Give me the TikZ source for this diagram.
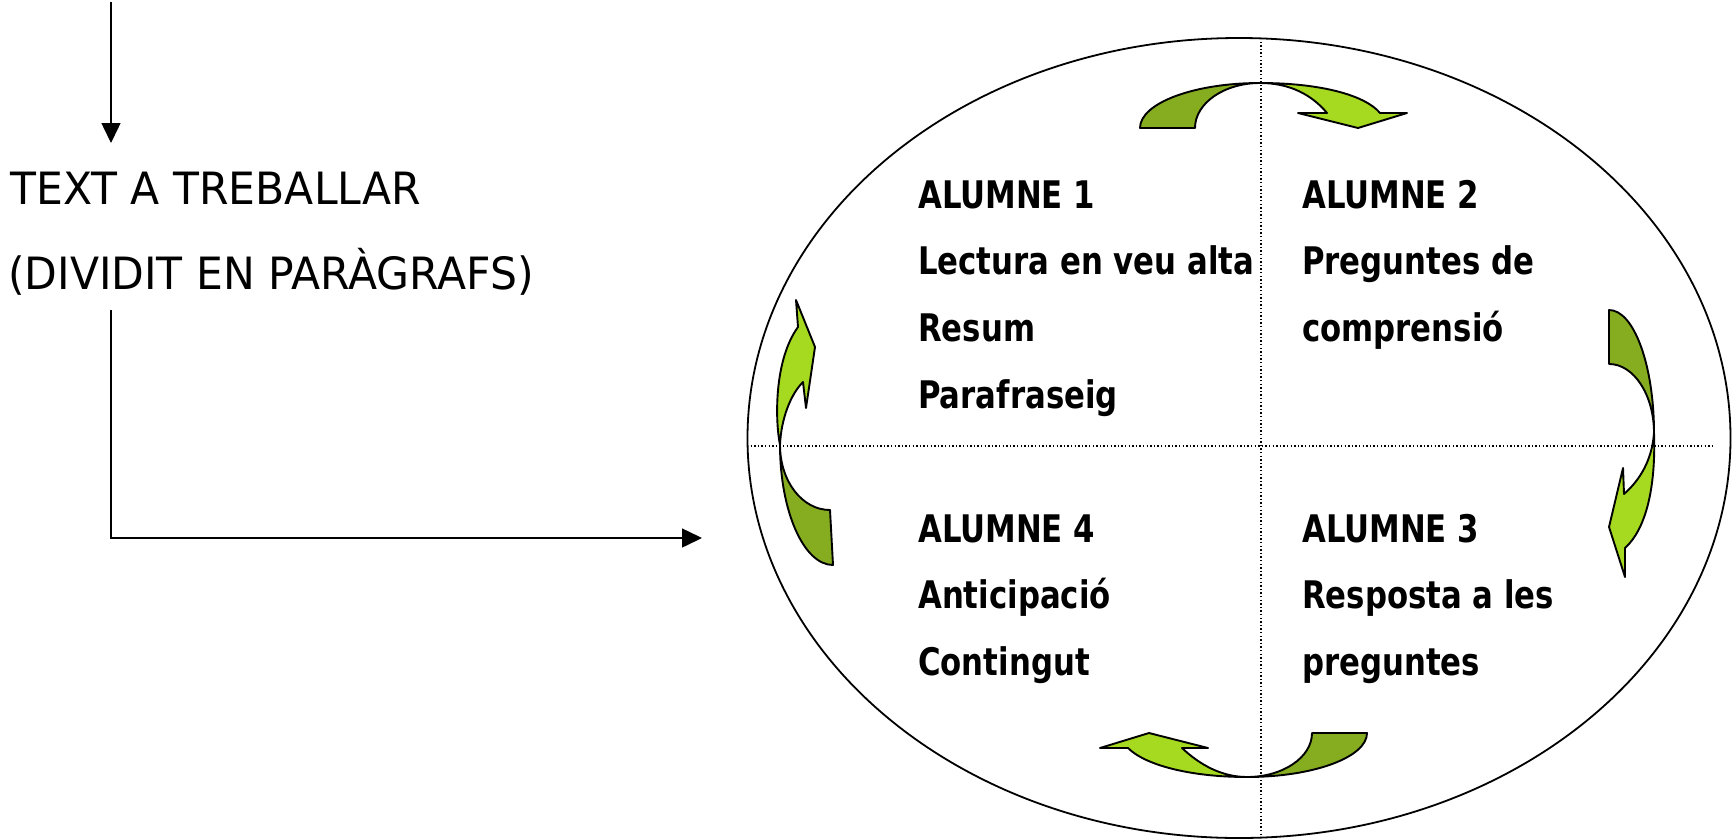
\documentclass[tikz,border=0pt]{standalone}
\usepackage{fontspec}
\setmainfont{DejaVu Sans}[FakeStretch=0.955]
\newfontfamily\boldfnt{DejaVu Sans}[FakeStretch=0.81]
\usetikzlibrary{arrows.meta}
\definecolor{gdark}{RGB}{134,172,32}
\definecolor{glight}{RGB}{166,218,32}
\begin{document}
\begin{tikzpicture}[x=1pt,y=-1pt,
  lbl/.style={anchor=base west,inner sep=0pt,font=\fontsize{44.5}{53}\selectfont},
  blbl/.style={anchor=base west,inner sep=0pt,font=\boldfnt\bfseries\fontsize{38}{46}\selectfont},
  conn/.style={line width=1.5pt,-{Triangle[width=19pt,length=20pt]}},
  sep/.style={line width=1.4pt,dash pattern=on 1.4pt off 2.2pt},
  darkpart/.style={fill=gdark,draw=black,line width=1.9pt,line join=round},
  lightpart/.style={fill=glight,draw=black,line width=1.9pt,line join=round}]
\useasboundingbox (0,0) rectangle (1734,838);

% left texts and connectors
\coordinate (topin) at (111,2);
\coordinate (topend) at (111,143);
\node[lbl] (txt1) at (10,204) {TEXT A TREBALLAR};
\node[lbl] (txt2) at (8,289) {(DIVIDIT EN PARÀGRAFS)};
\draw[conn] (topin) -- (topend);
\coordinate (srcB) at (111,310);
\coordinate (tgtB) at (702,538);
\draw[conn] (srcB) |- (tgtB);

% ellipse and separators
\draw[line width=1.8pt] (1239,438) ellipse [x radius=491.5pt, y radius=400pt];
\draw[sep] (1261,38) -- (1261,838);
\draw[sep] (747,446) -- (1713,446);

% student texts
\node[blbl] (a1) at (918,208) {ALUMNE 1};
\node[blbl] (a1l1) at (918,274) {Lectura en veu alta};
\node[blbl] (a1l2) at (918,341) {Resum};
\node[blbl] (a1l3) at (918,408) {Parafraseig};
\node[blbl] (a2) at (1302,208) {ALUMNE 2};
\node[blbl] (a2l1) at (1302,274) {Preguntes de};
\node[blbl] (a2l2) at (1302,341) {comprensió};
\node[blbl] (a4) at (918,542) {ALUMNE 4};
\node[blbl] (a4l1) at (918,608) {Anticipació};
\node[blbl] (a4l2) at (918,675) {Contingut};
\node[blbl] (a3) at (1302,542) {ALUMNE 3};
\node[blbl] (a3l1) at (1302,608) {Resposta a les};
\node[blbl] (a3l2) at (1302,675) {preguntes};

% top curved arrow
\draw[darkpart] (1140,128) .. controls (1140,103.2) and (1193.8,83) .. (1260,83)
  .. controls (1224.1,83) and (1195,103.2) .. (1195,128) -- cycle;
\draw[lightpart] (1260,83) .. controls (1320,83) and (1365,95) .. (1380,113)
  -- (1407,113) -- (1358,128) -- (1298,113) -- (1327,113)
  .. controls (1312,95) and (1290,83) .. (1260,83) -- cycle;

% right curved arrow
\draw[darkpart] (1609,364) -- (1609,310) .. controls (1633.8,310) and (1654,365.1) .. (1654,433)
  .. controls (1654,394.9) and (1633.8,364) .. (1609,364) -- cycle;
\draw[lightpart] (1654,433) .. controls (1656,490) and (1645,530) .. (1625,548)
  -- (1625,577) -- (1609,527) -- (1623,468) -- (1624,494)
  .. controls (1640,480) and (1652,460) .. (1654,433) -- cycle;

% bottom curved arrow
\draw[darkpart] (1312,733) -- (1367,733) .. controls (1367,757.3) and (1313.2,777) .. (1247,777)
  .. controls (1282.9,777) and (1312,757.3) .. (1312,733) -- cycle;
\draw[lightpart] (1247,777) .. controls (1190,777) and (1145,765) .. (1128,748)
  -- (1100,748) -- (1149,733) -- (1208,748) -- (1182,748)
  .. controls (1200,765) and (1222,777) .. (1247,777) -- cycle;

% left curved arrow
\draw[darkpart] (780,445) .. controls (780,511) and (803.7,565) .. (833,565)
  -- (830,510) .. controls (802,510) and (780,481) .. (780,445) -- cycle;
\draw[lightpart] (780,445) .. controls (775,420) and (774,360) .. (798,327)
  -- (796,300) -- (815,347) -- (806,408) -- (803,382)
  .. controls (790,395) and (781,420) .. (780,445) -- cycle;
\end{tikzpicture}
\end{document}
